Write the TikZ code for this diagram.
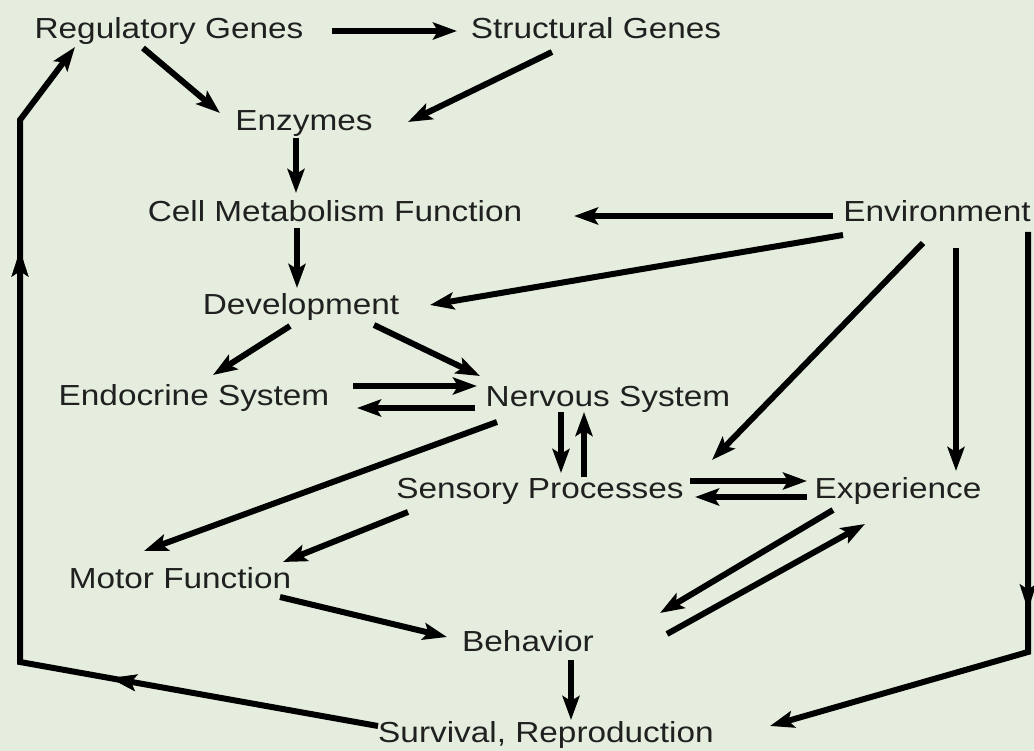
\documentclass[tikz,border=0pt]{standalone}
\usepackage{fontspec}
\setmainfont[FakeStretch=1.15]{Liberation Sans}
\usetikzlibrary{arrows.meta,calc,decorations.markings}
\definecolor{bgc}{RGB}{229,238,222}
\definecolor{txt}{RGB}{32,32,32}
\begin{document}
\begin{tikzpicture}[x=1pt,y=-1pt,
  lbl/.style={font=\fontsize{29}{34}\selectfont, text=txt, inner sep=0pt, text height=20.8pt, text depth=0pt},
  conn/.style={line width=6pt, -{Stealth[length=24pt,width=17pt,inset=5pt]}},
  seg/.style={line width=6pt, line join=miter},
  midtip/.style={postaction=decorate, decoration={markings, mark=at position #1 with {\arrow{Stealth[length=26pt,width=16pt,inset=5pt]}}}}
]
\fill[bgc] (0,0) rectangle (1034,751);
\useasboundingbox (0,0) rectangle (1034,751);

\node[lbl] (reg)    at (169,28)  {Regulatory Genes};
\node[lbl] (struct) at (596,28)  {Structural Genes};
\node[lbl] (enz)    at (304,120) {Enzymes};
\node[lbl] (cell)   at (335,211) {Cell Metabolism Function};
\node[lbl] (env)    at (937,211) {Environment};
\node[lbl] (dev)    at (301,304) {Development};
\node[lbl] (endo)   at (194,395) {Endocrine System};
\node[lbl] (nerv)   at (608,396) {Nervous System};
\node[lbl] (sens)   at (540,488) {Sensory Processes};
\node[lbl] (exp)    at (898,488) {Experience};
\node[lbl] (motor)  at (180,578) {Motor Function};
\node[lbl] (beh)    at (528,641) {Behavior};
\node[lbl] (surv)   at (546,732) {Survival, Reproduction};

\coordinate (rc1) at (1028,652);
\coordinate (lc1) at (20,662);
\coordinate (lc2) at (20,120);

\draw[conn] ($(reg)+(163,3)$) -- ($(struct)+(-139,3)$);
\draw[conn] ($(reg)+(-26,20)$) -- ($(enz)+(-84,-7)$);
\draw[conn] ($(struct)+(-44,24)$) -- ($(enz)+(104,2)$);
\draw[conn] ($(enz)+(-8,18)$) -- ($(cell)+(-39,-18)$);
\draw[conn] ($(cell)+(-38,17)$) -- ($(dev)+(-4,-16)$);
\draw[conn] ($(env)+(-104,5)$) -- ($(cell)+(239,5)$);
\draw[conn] ($(env)+(-94,24)$) -- ($(dev)+(129,1)$);
\draw[conn] ($(dev)+(-11,22)$) -- ($(endo)+(19,-20)$);
\draw[conn] ($(dev)+(73,21)$) -- ($(nerv)+(-128,-20)$);
\draw[conn] ($(endo)+(159,-9)$) -- ($(nerv)+(-131,-10)$);
\draw[conn] ($(nerv)+(-133,12)$) -- ($(endo)+(163,13)$);
\draw[conn] ($(nerv)+(-111,26)$) -- ($(motor)+(-36,-27)$);
\draw[conn] ($(env)+(-14,32)$) -- ($(sens)+(172,-28)$);
\draw[conn] ($(env)+(19,37)$) -- ($(exp)+(58,-17)$);
\draw[seg, midtip=0.55, -{Stealth[length=24pt,width=17pt,inset=5pt]}] ($(env)+(91,21)$) -- (rc1) -- ($(surv)+(224,-6)$);
\draw[conn] ($(sens)+(150,-7)$) -- ($(exp)+(-91,-7)$);
\draw[conn] ($(exp)+(-91,9)$) -- ($(sens)+(155,9)$);
\draw[conn] ($(nerv)+(-47,16)$) -- ($(sens)+(21,-15)$);
\draw[conn] ($(sens)+(44,-11)$) -- ($(nerv)+(-24,16)$);
\draw[conn] ($(sens)+(-132,24)$) -- ($(motor)+(103,-16)$);
\draw[conn] ($(motor)+(100,19)$) -- ($(beh)+(-81,-4)$);
\draw[conn] ($(exp)+(-65,22)$) -- ($(beh)+(132,-28)$);
\draw[conn] ($(beh)+(139,-7)$) -- ($(exp)+(-33,36)$);
\draw[conn] ($(beh)+(43,19)$) -- ($(surv)+(25,-12)$);
\draw[seg, midtip=0.273, midtip=0.778, -{Stealth[length=24pt,width=17pt,inset=5pt]}] ($(surv)+(-168,-6)$) -- (lc1) -- (lc2) -- ($(reg)+(-94,19)$);
\end{tikzpicture}
\end{document}
